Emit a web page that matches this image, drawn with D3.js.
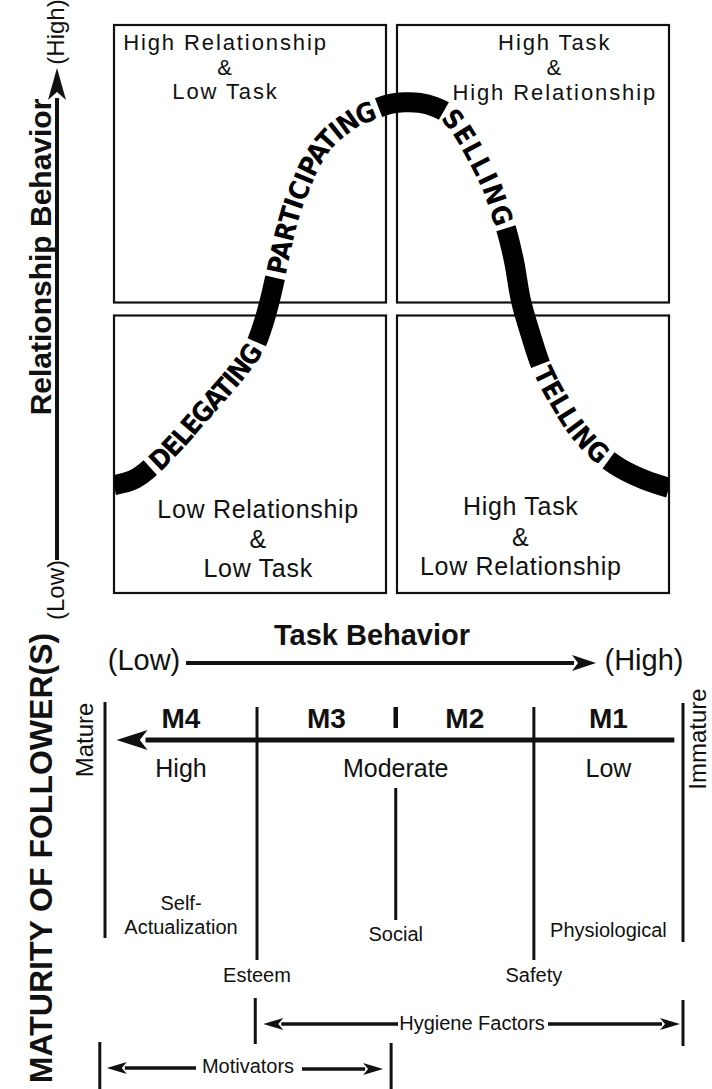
<!DOCTYPE html>
<html><head><meta charset="utf-8">
<script src="https://cdn.jsdelivr.net/npm/d3@7"></script>
<style>html,body{margin:0;padding:0;background:#fff}</style>
</head><body><svg id="chart" width="712" height="1089"></svg>
<script>
// ---------------- DATA ----------------
const quadrantLabels = [
  ["High Relationship", "&", "Low Task"],
  ["High Task", "&", "High Relationship"],
  ["Low Relationship", "&", "Low Task"],
  ["High Task", "&", "Low Relationship"]
];
// leadership-style curve: task behavior (x, 0-100) vs relationship behavior (y, 0-100)
const curveTask = [0, 3.8, 7.7, 11.5, 15.3, 19.1, 22.9, 25.4, 27.0, 28.1, 29.2, 30.1, 31.2, 32.4, 33.7, 35.0, 36.6, 38.6, 40.9, 43.6, 46.5, 49.7, 52.4, 55.1, 57.8, 60.0, 61.6, 63.4, 65.2, 66.8, 68.3, 69.5, 70.8, 72.1, 73.3, 75.1, 76.9, 78.6, 80.4, 82.5, 85.4, 88.1, 91.2, 95.7, 100];
const curveRelationship = [19.0, 20.1, 23.1, 26.9, 31.2, 35.4, 39.8, 43.5, 47.7, 51.6, 56.3, 60.4, 64.8, 68.7, 71.8, 74.8, 77.6, 80.1, 82.0, 83.8, 85.0, 86.1, 86.4, 86.3, 85.6, 84.5, 82.9, 80.3, 77.1, 74.1, 70.9, 67.4, 63.6, 58.3, 51.6, 45.4, 40.1, 36.6, 33.5, 30.1, 26.6, 24.1, 22.0, 19.9, 18.5];
const styleNames = ["DELEGATING", "PARTICIPATING", "SELLING", "TELLING"];
const styleStart = [6.5, 29.0, 59.4, 76.8];
const styleEnd = [25.7, 47.6, 70.6, 89.0];

const axisTitleY = "Relationship Behavior";
const axisTitleX = "Task Behavior";
const axisEnds = ["(Low)", "(High)"];

const maturityTitle = "MATURITY OF FOLLOWER(S)";
const maturityEnds = ["Mature", "Immature"];
const maturityBounds = [0, 26.3, 50.3, 74.2, 100];
const maturityLevels = ["M4", "M3", "M2", "M1"];
const maturityDegrees = ["High", "Moderate", "Low"];
const needNames = [["Self-", "Actualization"], ["Esteem"], ["Social"], ["Safety"], ["Physiological"]];
const needPos = [13.15, 26.3, 50.3, 74.2, 87.1];
const factorNames = ["Hygiene Factors", "Motivators"];
const hygieneSpan = [26.0, 100];
const motivatorSpan = [-0.9, 49.5];

// ---------------- SETUP ----------------
const svg = d3.select("#chart");
const FONT = "'Liberation Sans', Arial, Helvetica, sans-serif";
const NARROW = "'Liberation Sans Narrow', 'DejaVu Sans Condensed', 'Arial Narrow', sans-serif";
const x = d3.scaleLinear().domain([0, 100]).range([114, 669]);
const y = d3.scaleLinear().domain([0, 100]).range([593, 25]);
const m = d3.scaleLinear().domain([0, 100]).range([105, 683]);

function txt(px, py, s, size, opts = {}) {
  const t = svg.append("text")
    .attr("x", px).attr("y", py)
    .attr("font-family", opts.family || FONT)
    .attr("font-size", size)
    .attr("font-weight", opts.weight || "normal")
    .attr("text-anchor", opts.anchor || "middle")
    .attr("fill", "#111")
    .text(s);
  if (opts.rotate) t.attr("transform", `rotate(${opts.rotate},${px},${py})`);
  if (opts.ls) t.attr("letter-spacing", opts.ls);
  return t;
}
function arrow(x1, y1, x2, y2, headLen, headHalf, w) {
  const dx = x2 - x1, dy = y2 - y1, L = Math.hypot(dx, dy);
  const ux = dx / L, uy = dy / L;
  const bx = x2 - ux * headLen, by = y2 - uy * headLen;
  svg.append("line").attr("x1", x1).attr("y1", y1).attr("x2", bx + ux * 2).attr("y2", by + uy * 2)
    .attr("stroke", "#111").attr("stroke-width", w);
  svg.append("path")
    .attr("d", `M${x2},${y2}L${bx - uy * headHalf},${by + ux * headHalf}L${bx + ux * headLen * 0.25},${by + uy * headLen * 0.25}L${bx + uy * headHalf},${by - ux * headHalf}Z`)
    .attr("fill", "#111");
}
function vline(px, y1, y2, w) {
  svg.append("line").attr("x1", px).attr("x2", px).attr("y1", y1).attr("y2", y2)
    .attr("stroke", "#111").attr("stroke-width", w || 3);
}

// ---------------- QUADRANTS ----------------
const hx = 5.5, hy = 6.5;
const boxes = [
  [x(0), x(50) - hx, y(100), y(50) - hy],
  [x(50) + hx, x(100), y(100), y(50) - hy],
  [x(0), x(50) - hx, y(50) + hy, y(0)],
  [x(50) + hx, x(100), y(50) + hy, y(0)]
];
const labelFrac = [0.41, 0.58, 0.53, 0.455];
const labelBase = [[50, 75, 99], [50, 75, 100], [518, 548, 577], [515, 546, 575]];
const labelSize = [22, 22, 25, 25];
const labelLs = [1.9, 1.9, 0.7, 0.7];
boxes.forEach((b, i) => {
  svg.append("rect").attr("x", b[0]).attr("y", b[2]).attr("width", b[1] - b[0]).attr("height", b[3] - b[2])
    .attr("fill", "none").attr("stroke", "#111").attr("stroke-width", 2.2);
  quadrantLabels[i].forEach((s, j) => {
    txt(b[0] + (b[1] - b[0]) * labelFrac[i], labelBase[i][j], s, labelSize[i], { ls: labelLs[i] });
  });
});

// ---------------- CURVE ----------------
const pts = curveTask.map((t, i) => [t, curveRelationship[i]]);
const lineGen = d3.line().x(d => x(d[0])).y(d => y(d[1])).curve(d3.curveCatmullRom.alpha(0.5));
const defs = svg.append("defs");
defs.append("clipPath").attr("id", "qclip").append("rect")
  .attr("x", x(0)).attr("y", 0).attr("width", x(100) - x(0)).attr("height", 1089);
const curvePath = defs.append("path").attr("id", "curve").attr("d", lineGen(pts));
const pnode = curvePath.node();
const total = pnode.getTotalLength();
const samples = [];
for (let l = 0; l <= total; l += 0.5) samples.push([l, pnode.getPointAtLength(l).x]);
function lenAtX(tx) {
  const px = x(tx);
  for (const s of samples) if (s[1] >= px) return s[0];
  return total;
}
const Ls = styleStart.map(lenAtX), Le = styleEnd.map(lenAtX);
const dash = [];
let prev = 0;
Ls.forEach((s, i) => { dash.push(s - prev, Le[i] - s); prev = Le[i]; });
dash.push(total - prev + 40, 2000);
svg.append("path").attr("d", lineGen(pts)).attr("fill", "none")
  .attr("stroke", "#000").attr("stroke-width", 20)
  .attr("stroke-dasharray", dash.join(","))
  .attr("clip-path", "url(#qclip)");

styleNames.forEach((name, i) => {
  const pad = 4;
  const target = Le[i] - Ls[i] - 2 * pad;
  const t = svg.append("text")
    .attr("font-family", NARROW).attr("font-weight", "bold").attr("font-size", 27)
    .attr("fill", "#000").attr("dy", "0.36em");
  const tp = t.append("textPath").attr("href", "#curve")
    .attr("startOffset", (Ls[i] + Le[i]) / 2).attr("text-anchor", "middle").text(name);
  const natural = t.node().getComputedTextLength();
  const n = name.length;
  const ls = (target - natural) / (n - 1);
  t.attr("letter-spacing", ls);
  tp.attr("startOffset", (Ls[i] + Le[i]) / 2 + ls / 2);
});

// ---------------- AXES ----------------
// vertical: relationship behavior
arrow(57, 560, 57, 68, 32, 9, 4);
txt(64, 32, axisEnds[1], 24, { rotate: -90 });
txt(64, 590, axisEnds[0], 24, { rotate: -90 });
txt(51, 257, axisTitleY, 30, { rotate: -90, weight: "bold" });

// horizontal: task behavior
txt(372, 645, axisTitleX, 29, { weight: "bold" });
txt(144, 670, axisEnds[0], 29);
txt(644, 670, axisEnds[1], 29);
arrow(186, 663, 596, 663, 24, 8, 4);

// ---------------- MATURITY ----------------
txt(52, 858, maturityTitle, 32, { rotate: -90, weight: "bold" });
txt(93, 740, maturityEnds[0], 24, { rotate: -90 });
txt(706, 739, maturityEnds[1], 24, { rotate: -90 });

maturityLevels.forEach((s, i) => {
  txt(m((maturityBounds[i] + maturityBounds[i + 1]) / 2), 728, s, 28, { weight: "bold" });
});
vline(m(maturityBounds[2]), 707, 728, 4.5);
arrow(m(98.5), 740, m(2), 740, 31, 10, 5);

vline(m(maturityBounds[0]), 702, 938, 3);
vline(m(maturityBounds[1]), 707, 960, 3);
vline(m(maturityBounds[3]), 707, 960, 3);
vline(m(maturityBounds[4]), 703, 942, 3);
vline(m(maturityBounds[2]), 788, 920, 3);

const degPos = [(maturityBounds[0] + maturityBounds[1]) / 2, maturityBounds[2], (maturityBounds[3] + maturityBounds[4]) / 2];
maturityDegrees.forEach((s, i) => txt(m(degPos[i]), 777, s, 25));

const needBase = [[910, 934], [982], [941], [982], [937]];
needNames.forEach((lines, i) => {
  lines.forEach((s, j) => txt(m(needPos[i]), needBase[i][j], s, 20));
});

// hygiene factors
const hx0 = m(hygieneSpan[0]), hx1 = m(hygieneSpan[1]);
vline(hx0, 998, 1044, 3);
vline(hx1, 1000, 1046, 3);
txt(472, 1030, factorNames[0], 20);
arrow(398, 1024, hx0 + 8, 1024, 20, 6, 3.5);
arrow(548, 1024, hx1 - 3, 1024, 20, 6, 3.5);

// motivators
const mx0 = m(motivatorSpan[0]), mx1 = m(motivatorSpan[1]);
vline(mx0, 1042, 1089, 3);
vline(mx1, 1043, 1089, 3);
txt(248, 1073, factorNames[1], 20);
arrow(196, 1068, mx0 + 7, 1068, 20, 6, 3.5);
arrow(302, 1069, mx1 - 8, 1069, 20, 6, 3.5);
</script>
</body></html>
